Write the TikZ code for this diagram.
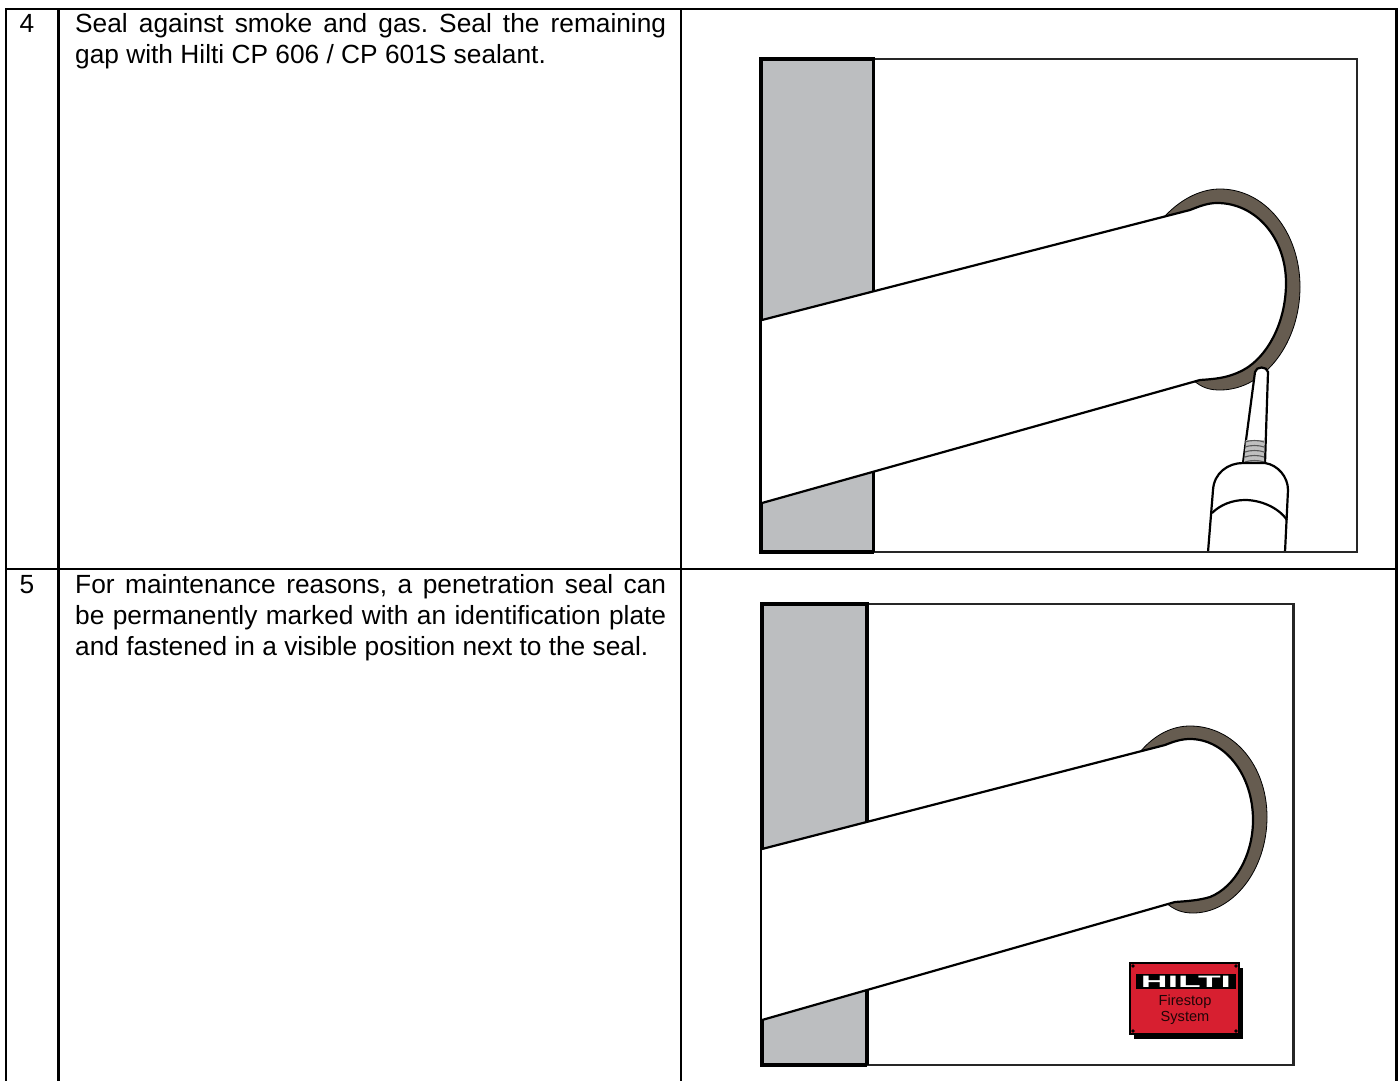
\documentclass[tikz,border=0pt]{standalone}
\usepackage{fontspec}
\setmainfont{Liberation Sans}
\frenchspacing
\definecolor{wall}{HTML}{BCBEC0}
\definecolor{sealc}{HTML}{665C50}
\definecolor{plate}{HTML}{D71F30}
\newcommand{\celltype}{\fontsize{26.3}{31}\selectfont\frenchspacing}
\tikzset{
  grid line/.style={line width=2.3pt,black},
  frame line/.style={line width=2.2pt,black!85},
  wall edge/.style={line width=3.2pt,black},
  pipe line/.style={line width=2.2pt,black},
  cell text/.style={anchor=base west,inner sep=0pt,text width=591pt,align=justify,font=\celltype},
  num text/.style={anchor=base,inner sep=0pt,font=\celltype},
}
\begin{document}
\begin{tikzpicture}[x=1pt,y=-1pt]
\useasboundingbox (0,0) rectangle (1398,1081);
% table
\draw[grid line] (6,1081) -- (6,9) -- (1396.5,9) -- (1396.5,1081);
\draw[grid line] (6,569) -- (1396.5,569);
\draw[grid line] (58.5,9) -- (58.5,1081);
\draw[grid line] (681,9) -- (681,1081);
% text
\node[num text] (n4) at (27,33) {4};
\node[num text] (n5) at (27,593) {5};
\node[cell text] (t4) at (75,33) {Seal against smoke and gas. Seal the remaining\linebreak gap with Hilti CP 606 / CP 601S sealant.};
\node[cell text] (t5) at (75,593) {For maintenance reasons, a penetration seal can\linebreak be permanently marked with an identification plate\linebreak and fastened in a visible position next to the seal.};
% figure 1
\fill[wall] (761,59) rectangle (873.5,552);
\draw[frame line] (873.5,59) -- (1357,59) -- (1357,552) -- (873.5,552);
\draw[wall edge] (873.5,552) -- (761,552) -- (761,59) -- (873.5,59) -- (873.5,552);
% seal ring
\fill[sealc,draw=black,line width=0.8pt] (1165,216) .. controls (1183,197) and (1203,189) .. (1220,189)
  .. controls (1265,189) and (1300,232) .. (1300,287)
  .. controls (1300,342) and (1265,390) .. (1220,390)
  .. controls (1210,390) and (1202,388) .. (1193,380) -- cycle;
% pipe
\fill[white] (762,320) -- (1190,210) .. controls (1200,206) and (1208,203) .. (1217,203)
  .. controls (1256,203) and (1286,238) .. (1286,283)
  .. controls (1286,325) and (1265,362) .. (1237,373)
  .. controls (1225,378) and (1215,379) .. (1200,380) -- (762,503) -- cycle;
\draw[pipe line] (762,320) -- (1190,210) .. controls (1200,206) and (1208,203) .. (1217,203)
  .. controls (1256,203) and (1286,238) .. (1286,283)
  .. controls (1286,325) and (1265,362) .. (1237,373)
  .. controls (1225,378) and (1215,379) .. (1200,380) -- (762,503);
% nozzle
\fill[white] (1243,463) -- (1255,372) .. controls (1256,366) and (1267,366) .. (1268,372) -- (1265,463) -- cycle;
\draw[pipe line] (1243,463) -- (1255,372) .. controls (1256,366) and (1267,366) .. (1268,372) -- (1265,463);
\fill[black!25] (1246,440) -- (1264,440) -- (1264,463) -- (1244,463) -- cycle;
\foreach \yy in {442,447,452,457,462} \draw[black!65,line width=1.1pt] (1245,\yy) .. controls (1250,\yy-2) and (1259,\yy-2) .. (1264,\yy);
% cartridge
\fill[white] (1208,552) -- (1213,490) .. controls (1214,473) and (1228,463) .. (1243,463) -- (1265,463)
  .. controls (1278,465) and (1288,477) .. (1288,490) -- (1285,552) -- cycle;
\draw[pipe line] (1208,552) -- (1213,490) .. controls (1214,473) and (1228,463) .. (1243,463) -- (1265,463)
  .. controls (1278,465) and (1288,477) .. (1288,490) -- (1285,552);
\draw[pipe line] (1212,513) .. controls (1220,505) and (1232,500) .. (1245,500) .. controls (1260,500) and (1278,507) .. (1287,520);
\draw[frame line] (1205,552) -- (1290,552);
% figure 2
\fill[wall] (762,604) rectangle (867,1065);
\draw[frame line] (867,604) -- (1293.5,604) -- (1293.5,1065) -- (867,1065);
\draw[wall edge] (867,1065) -- (762,1065) -- (762,604) -- (867,604) -- (867,1065);
\fill[sealc,draw=black,line width=0.8pt] (1140,752) .. controls (1155,734) and (1173,726) .. (1190,726)
  .. controls (1233,726) and (1267,765) .. (1267,817)
  .. controls (1267,870) and (1233,913) .. (1193,913)
  .. controls (1182,913) and (1174,910) .. (1165,902) -- cycle;
\fill[white] (762,849) -- (1165,745) .. controls (1175,741) and (1182,739) .. (1190,739)
  .. controls (1225,739) and (1253,775) .. (1253,820)
  .. controls (1253,855) and (1235,887) .. (1210,897)
  .. controls (1200,900) and (1190,901) .. (1175,902) -- (762,1020) -- cycle;
\draw[pipe line] (762,849) -- (1165,745) .. controls (1175,741) and (1182,739) .. (1190,739)
  .. controls (1225,739) and (1253,775) .. (1253,820)
  .. controls (1253,855) and (1235,887) .. (1210,897)
  .. controls (1200,900) and (1190,901) .. (1175,902) -- (762,1020);
% plate
\fill[black] (1134,968) rectangle (1243,1039);
\fill[plate,draw=black,line width=1.2pt] (1130,963) rectangle (1239,1034);
\foreach \px/\py in {1133/966,1236/966,1133/1031,1236/1031} \fill[black] (\px,\py) circle (1.8pt);
\fill[black] (1136,974) rectangle (1236,989);
\node[inner sep=0pt,text=white,font=\bfseries\fontsize{16.5}{16.5}\selectfont,xscale=2.25] (logo) at (1186,981.5) {HILTI};
\node[inner sep=0pt,align=center,text=black!85!plate,font=\fontsize{14.6}{16}\selectfont] (plate text) at (1185,1010) {Firestop\\System};
\end{tikzpicture}
\end{document}
